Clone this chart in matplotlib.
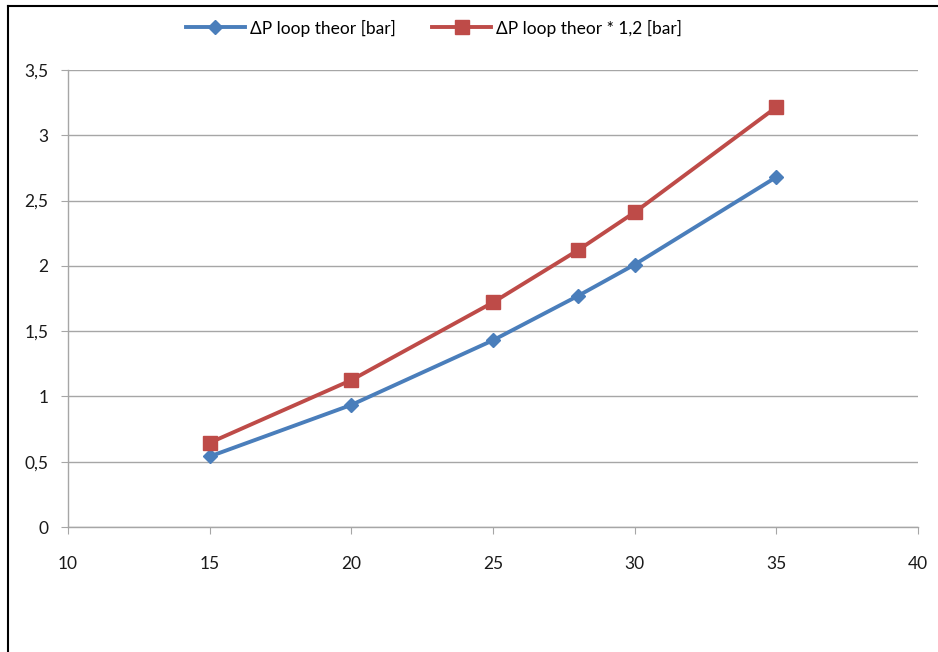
import matplotlib.pyplot as plt
from matplotlib.lines import Line2D

plt.rcParams["font.family"] = ["Lato", "DejaVu Sans"]

x_vals = [15, 20, 25, 28, 30, 35]
dp_theor = [0.54, 0.935, 1.43, 1.77, 2.01, 2.68]
dp_theor_12 = [0.645, 1.125, 1.72, 2.12, 2.41, 3.215]

x_ticks = [10, 15, 20, 25, 30, 35, 40]
y_ticks = [0, 0.5, 1, 1.5, 2, 2.5, 3, 3.5]
y_labels = ["0", "0,5", "1", "1,5", "2", "2,5", "3", "3,5"]

blue = "#4A7EBB"
red = "#BE4B48"
grid_col = "#A6A6A6"

W, H = 938, 652
fig = plt.figure(figsize=(W / 100, H / 100), dpi=100)
ax = fig.add_axes([68 / W, 1 - 527 / H, (918 - 68) / W, (527 - 70) / H])

ax.plot(x_vals, dp_theor, color=blue, lw=2.8, marker="D", ms=7.5,
        label="ΔP loop theor [bar]", zorder=3)
ax.plot(x_vals, dp_theor_12, color=red, lw=2.8, marker="s", ms=10,
        label="ΔP loop theor * 1,2 [bar]", zorder=3)

ax.set_xlim(10, 40)
ax.set_ylim(0, 3.5)
ax.set_xticks(x_ticks)
ax.set_yticks(y_ticks)
ax.set_yticklabels(y_labels)
ax.grid(axis="y", color=grid_col, lw=1)
ax.set_axisbelow(True)

for s in ["top", "right"]:
    ax.spines[s].set_visible(False)
for s in ["left", "bottom"]:
    ax.spines[s].set_color(grid_col)
    ax.spines[s].set_linewidth(1)
ax.tick_params(axis="both", color=grid_col, length=5, labelsize=12.5,
               labelcolor="#1a1a1a")
ax.tick_params(axis="x", pad=16)
ax.tick_params(axis="y", pad=9)

fig.legend(loc="center", bbox_to_anchor=(434 / W, 1 - 28 / H), ncol=2,
           frameon=False, fontsize=12.5, handlelength=3.4, columnspacing=2.1,
           handletextpad=0.3)

# outer chart frame (left and top edges visible)
fig.add_artist(Line2D([8 / W, 8 / W], [0, 1 - 6 / H], color="black", lw=1.5,
                      transform=fig.transFigure))
fig.add_artist(Line2D([8 / W, 1], [1 - 6 / H, 1 - 6 / H], color="black", lw=1.5,
                      transform=fig.transFigure))

fig.savefig("out.png", dpi=100)
